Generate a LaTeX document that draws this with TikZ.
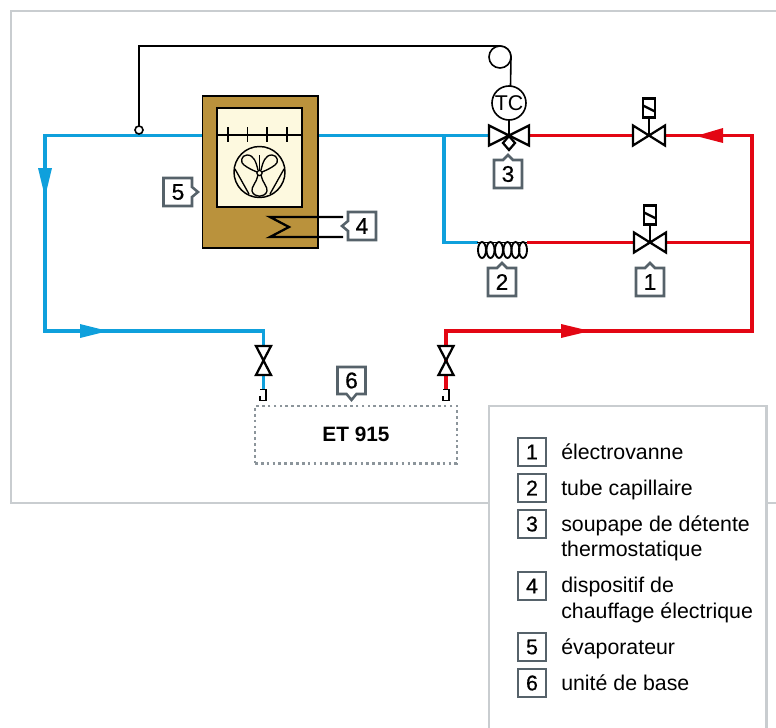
\documentclass[tikz,border=0pt]{standalone}
\usepackage{fontspec}
\setmainfont{Liberation Sans}
\newfontfamily\tagfont[FakeBold=0.6]{Liberation Sans}
\definecolor{blueline}{HTML}{0FA0DC}
\definecolor{redline}{HTML}{E30613}
\definecolor{framegray}{HTML}{C9CDD0}
\definecolor{tagline}{HTML}{56626A}
\definecolor{dotgray}{HTML}{8C959B}
\definecolor{evapbrown}{HTML}{BA923C}
\definecolor{evapcream}{HTML}{FDF9DF}
\tikzset{
  x=0.75pt,y=-0.75pt,
  framebox/.style={draw=framegray,line width=1.9pt,fill=white},
  bluepipe/.style={draw=blueline,line width=2.8pt,line join=miter},
  redpipe/.style={draw=redline,line width=2.8pt,line join=miter},
  blackline/.style={draw=black,line width=1.2pt},
  symline/.style={draw=black,line width=1.7pt,line join=miter,fill=white},
  tagbox/.style={draw=tagline,line width=1.9pt,fill=white,line join=miter},
  tagtext/.style={font=\tagfont\fontsize{17pt}{18pt}\selectfont,text=black,inner sep=0pt},
  legtext/.style={font=\fontsize{16pt}{19.5pt}\selectfont,text=black,anchor=base west,inner sep=0pt},
}
\newcommand{\bowtieH}[4]{% x y halfw halfh
  \draw[symline] (#1-#3,#2-#4) -- (#1+#3,#2+#4) -- (#1+#3,#2-#4) -- (#1-#3,#2+#4) -- cycle;}
\newcommand{\bowtieV}[4]{%
  \draw[symline] (#1-#3,#2-#4) -- (#1+#3,#2-#4) -- (#1-#3,#2+#4) -- (#1+#3,#2+#4) -- cycle;}
\newcommand{\solvalve}[2]{% x y
  \bowtieH{#1}{#2}{16}{10}
  \draw[symline] (#1,#2) -- (#1,#2-18);
  \draw[symline] (#1-6,#2-37) rectangle (#1+6,#2-18);
  \draw[symline] (#1-6,#2-30) -- (#1+6,#2-24);}
\newcommand{\couplerL}[2]{%
  \draw[black,line width=1.1pt,line join=miter] (#1-6,#2) -- (#1,#2) -- (#1,#2+11) -- (#1-6,#2+11) -- (#1-6,#2+6);}
\begin{document}
\begin{tikzpicture}
\useasboundingbox (0,0) rectangle (776,728);
% outer frame (runs off the right edge of the picture)
\draw[framebox,fill=none] (790,11) -- (11,11) -- (11,503) -- (790,503);
% pipes
\coordinate (jctL) at (45,135.5);
\coordinate (jctB) at (444,135.5);
\coordinate (jctR) at (752,242.5);
\coordinate (cornerTR) at (752,135.5);
\coordinate (cornerBR) at (752,331);
\coordinate (cornerBL) at (45,331);
\coordinate (vlvB) at (263.5,360.5);
\coordinate (vlvR) at (446,360.5);
\coordinate (vlvT) at (509,135.5);
\coordinate (sv2) at (649,135.5);
\coordinate (sv1) at (650,242.5);
\coordinate (capL) at (478,242.5);
\coordinate (capR) at (527,242.5);
\coordinate (bendBranch) at (444,242.5);
\coordinate (etB) at (263.5,389);
\coordinate (etR) at (446,389);
\coordinate (evapL) at (203,135.5);
\coordinate (evapR) at (318,135.5);
% blue
\draw[bluepipe] (evapL) -- (jctL) -- (cornerBL) -- (263.5,331) -- (vlvB);
\draw[bluepipe] (vlvB) -- (etB);
\draw[bluepipe] (evapR) -- (vlvT);
\draw[bluepipe] (jctB) -- (bendBranch) -- (capL);
% red
\draw[redpipe] (vlvT) -- (sv2) -- (cornerTR) -- (cornerBR) -- (446,331) -- (vlvR);
\draw[redpipe] (vlvR) -- (etR);
\draw[redpipe] (capR) -- (sv1) -- (jctR);
% flow arrows
\fill[blueline] (45,197) -- (38,168) -- (52,168) -- cycle;
\fill[blueline] (108,331) -- (80,324) -- (80,338) -- cycle;
\fill[redline] (590,331) -- (561,324) -- (561,338) -- cycle;
\fill[redline] (696,136) -- (723,128) -- (723,143) -- cycle;
% evaporator
\draw[black,line width=1.1pt,fill=evapbrown] (202.5,96) rectangle (318,248);
\draw[black,line width=1.2pt,fill=evapcream] (217,108) rectangle (302,207);
\draw[black,line width=1.1pt] (217,135) -- (302,135);
\foreach \tx in {228,247.5,267,287} \draw[black,line width=1.1pt] (\tx,127) -- (\tx,142);
% fan
\draw[black,line width=1.1pt] (259.5,172) circle[radius=25.5];
\draw[black,line width=1pt] (235,169) -- (249,194);
\draw[black,line width=1pt] (284,169) -- (270,194);
\draw[black,line width=1pt] (259.5,155) -- (259.5,170);
\draw[black,line width=1pt] (258,170) .. controls (256,162) and (254,155) .. (247,155) .. controls (241,155) and (240,163) .. (244,165) .. controls (248,168) and (252,170) .. (257,172);
\draw[black,line width=1pt] (261,170) .. controls (263,162) and (265,155) .. (272,155) .. controls (278,155) and (279,163) .. (275,165) .. controls (271,168) and (267,170) .. (262,172);
\draw[black,line width=1pt] (258,175) .. controls (257,182) and (251,187) .. (252,191) .. controls (254,198) and (265,198) .. (267,191) .. controls (268,187) and (262,182) .. (261,175);
\draw[black,line width=1pt,fill=evapcream] (259.5,173) circle[radius=2.6];
% heater
\coordinate (heatA) at (343,217);
\coordinate (heatB) at (343,237);
\draw[black,line width=1.7pt,line join=miter] (heatA) -- (270,217) -- (289,227) -- (270,237) -- (heatB);
% capillary sensor line
\coordinate (sensor) at (139,130);
\coordinate (tcTop) at (510.5,86);
\draw[blackline] (sensor) -- (139,46) -- (500,46) arc[start angle=-90,end angle=0,radius=11] -- (tcTop);
\draw[blackline,fill=white] (500,57) circle[radius=11];
\draw[blackline,fill=white] (sensor) circle[radius=4];
% TC valve
\draw[symline] (509,136) -- (503,143) -- (509,150) -- (515,143) -- cycle;
\bowtieH{509}{135.5}{20}{10}
\draw[symline] (509,120) -- (509,135.5);
\node[draw=black,line width=1.2pt,circle,fill=white,minimum size=25.5pt,inner sep=0pt,font=\fontsize{16pt}{16pt}\selectfont] (tc) at (509,103) {TC};
% solenoid valves
\solvalve{649}{135.5}
\solvalve{650}{242.5}
% capillary coil
\foreach \cx in {482,490.5,499,507.5,515.5,523}
  \draw[black,line width=1.4pt] (\cx,250) ellipse[x radius=4,y radius=8];
\draw[black,line width=1.4pt] (477,242.5) -- (527,242.5);
% bottom valves
\bowtieV{263.5}{360.5}{7.5}{14.5}
\bowtieV{446}{360.5}{7.5}{14.5}
\couplerL{266}{389.5}
\couplerL{449}{389.5}
% ET 915
\node[draw=dotgray,line width=2pt,dash pattern=on 2pt off 2.4pt,minimum width=151.5pt,minimum height=43pt,inner sep=0pt,font=\fontsize{15.6pt}{16pt}\selectfont\bfseries] (et) at (356,434.5) {ET 915};
% callouts
\draw[tagbox] (494,160) -- (503,160) -- (508,155) -- (513,160) -- (522,160) -- (522,188) -- (494,188) -- cycle;
\node[tagtext] (t3) at (508,174) {3};
\draw[tagbox] (488,268) -- (497,268) -- (502,263) -- (507,268) -- (516,268) -- (516,296) -- (488,296) -- cycle;
\node[tagtext] (t2) at (502,282) {2};
\draw[tagbox] (636,268) -- (645,268) -- (650,263) -- (655,268) -- (664,268) -- (664,296) -- (636,296) -- cycle;
\node[tagtext] (t1) at (650,282) {1};
\draw[tagbox] (163.5,178) -- (192,178) -- (192,187) -- (198,192) -- (192,197) -- (192,206) -- (163.5,206) -- cycle;
\node[tagtext] (t5) at (178,192) {5};
\draw[tagbox] (348,212) -- (376,212) -- (376,240) -- (348,240) -- (348,231) -- (342,226) -- (348,221) -- cycle;
\node[tagtext] (t4) at (362,226) {4};
\draw[tagbox] (337.5,367) -- (365.5,367) -- (365.5,394) -- (356.5,394) -- (351.5,400) -- (346.5,394) -- (337.5,394) -- cycle;
\node[tagtext] (t6) at (351.5,380.5) {6};
% legend
\draw[framebox] (489,740) -- (489,406) -- (766.5,406) -- (766.5,740);
\foreach \yy/\nn in {452/1,488/2,524/3,586/4,647/5,683/6}{
  \node[draw=tagline,line width=1.9pt,fill=white,minimum size=21pt,inner sep=0pt,font=\tagfont\fontsize{16pt}{16pt}\selectfont] (k\nn) at (532,\yy) {\nn};
}
\node[legtext] (l1) at (561,459.5) {électrovanne};
\node[legtext] (l2) at (561,495.5) {tube capillaire};
\node[legtext] (l3) at (561,531) {soupape de détente};
\node[legtext] (l3b) at (561,556.5) {thermostatique};
\node[legtext] (l4) at (561,592.5) {dispositif de};
\node[legtext] (l4b) at (561,618) {chauffage électrique};
\node[legtext] (l5) at (561,654) {évaporateur};
\node[legtext] (l6) at (561,690) {unité de base};
\end{tikzpicture}
\end{document}
